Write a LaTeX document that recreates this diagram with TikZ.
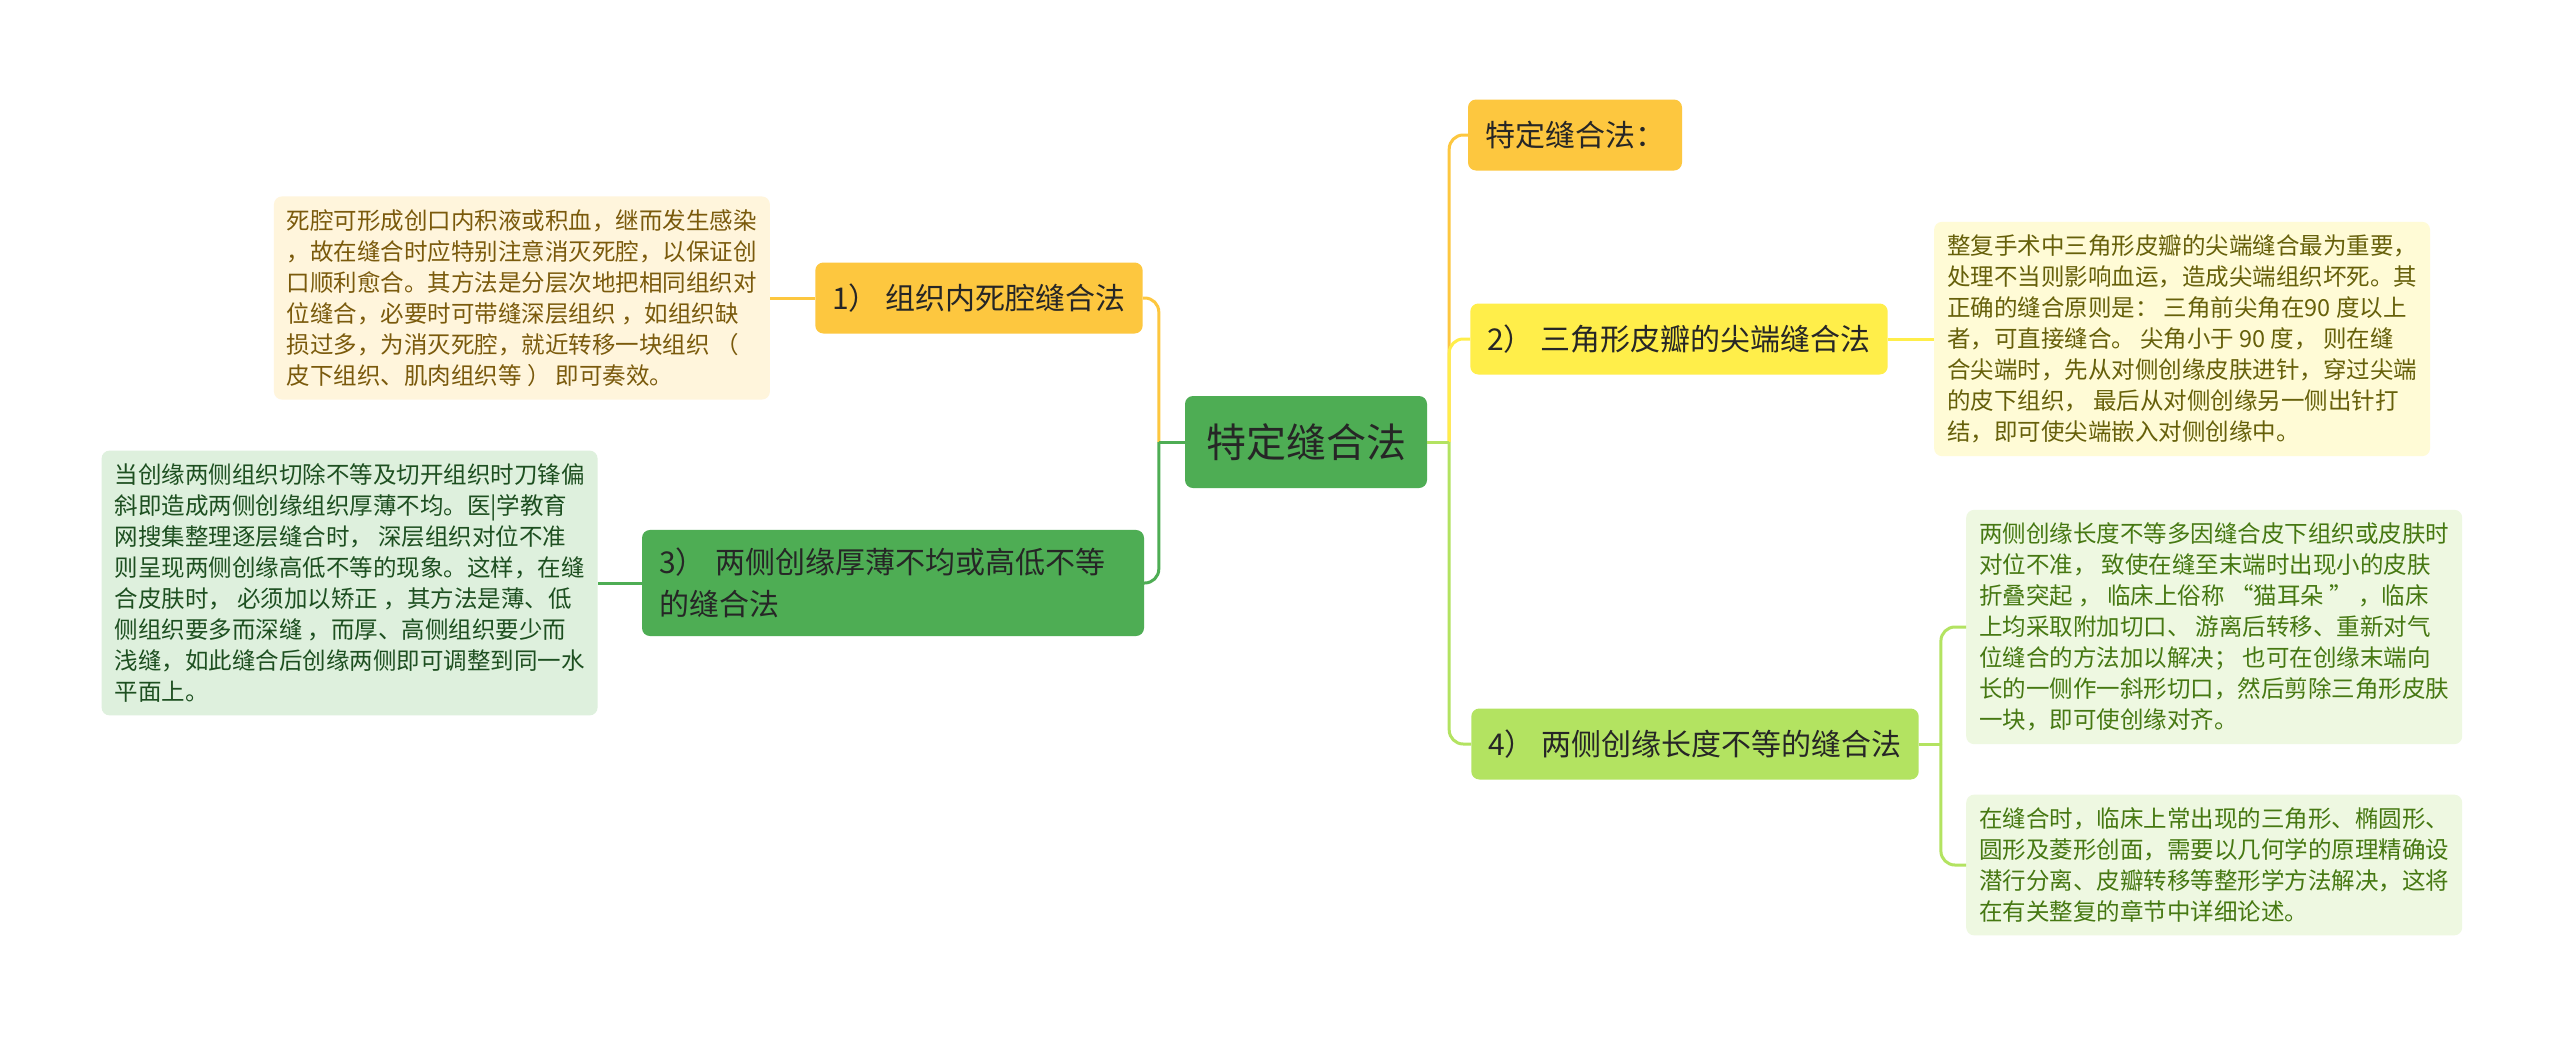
\documentclass[tikz,border=0pt]{standalone}
\usepackage{fontspec}
\setmainfont{Noto Sans CJK SC}
\usetikzlibrary{positioning}

\definecolor{rootgreen}{HTML}{4EAD54}
\definecolor{gold}{HTML}{FDC73F}
\definecolor{lemon}{HTML}{FFEE4A}
\definecolor{lime}{HTML}{B3E361}
\definecolor{creamfill}{HTML}{FFF5DC}
\definecolor{creamtext}{HTML}{7A5A0C}
\definecolor{lemonfill}{HTML}{FFFBD6}
\definecolor{lemontext}{HTML}{66600A}
\definecolor{mintfill}{HTML}{DEF0DD}
\definecolor{minttext}{HTML}{1D4F20}
\definecolor{limefill}{HTML}{EEF8E1}
\definecolor{limetext}{HTML}{467812}

\tikzset{
  topic/.style={rounded corners=8pt, inner xsep=17pt, inner ysep=0pt, minimum height=71pt,
    font=\fontsize{30}{42}\selectfont, text=black!85},
  note/.style={rounded corners=8pt, align=left, inner xsep=13pt, inner ysep=13pt,
    font=\fontsize{23.5}{31}\selectfont},
  link/.style={line width=3pt, rounded corners=14pt},
}

\begin{document}
\begin{tikzpicture}[x=1pt, y=-1pt]
        \fill[white] (0,0) rectangle (2560,1039);
        \useasboundingbox (0,0) rectangle (2560,1039);

        %nodes
        \node[topic, fill=rootgreen, minimum height=92pt, inner xsep=21pt,
              font=\fontsize{40}{48}\selectfont] (root) at (1306, 442) {特定缝合法};

        \node[topic, fill=gold] (dead) at (979, 298) {1）\ 组织内死腔缝合法};
        \node[topic, fill=rootgreen, inner ysep=18pt, text width=468pt, align=left]
              (thick) at (893, 583) {3）\ 两侧创缘厚薄不均或高低不等\\的缝合法};
        \node[topic, fill=gold] (intro) at (1575, 135) {特定缝合法：};
        \node[topic, fill=lemon] (tip) at (1679, 339) {2）\ 三角形皮瓣的尖端缝合法};
        \node[topic, fill=lime] (length) at (1695, 744) {4）\ 两侧创缘长度不等的缝合法};

        \node[note, fill=creamfill, text=creamtext, left=45pt of dead] (deadnote) {%
          死腔可形成创口内积液或积血，继而发生感染\\
          ，故在缝合时应特别注意消灭死腔，以保证创\\
          口顺利愈合。其方法是分层次地把相同组织对\\
          位缝合，必要时可带缝深层组织 ，如组织缺\\
          损过多，为消灭死腔，就近转移一块组织 （\\
          皮下组织、肌肉组织等 ） 即可奏效。};
        \node[note, fill=mintfill, text=minttext, left=44pt of thick] (thicknote) {%
          当创缘两侧组织切除不等及切开组织时刀锋偏\\
          斜即造成两侧创缘组织厚薄不均。医|学教育\\
          网搜集整理逐层缝合时， 深层组织对位不准\\
          则呈现两侧创缘高低不等的现象。这样，在缝\\
          合皮肤时， 必须加以矫正 ，其方法是薄、低\\
          侧组织要多而深缝 ，而厚、高侧组织要少而\\
          浅缝，如此缝合后创缘两侧即可调整到同一水\\
          平面上。};
        \node[note, fill=lemonfill, text=lemontext, right=46pt of tip] (tipnote) {%
          整复手术中三角形皮瓣的尖端缝合最为重要，\\
          处理不当则影响血运，造成尖端组织坏死。其\\
          正确的缝合原则是： 三角前尖角在90 度以上\\
          者，可直接缝合。 尖角小于 90 度， 则在缝\\
          合尖端时，先从对侧创缘皮肤进针，穿过尖端\\
          的皮下组织， 最后从对侧创缘另一侧出针打\\
          结，即可使尖端嵌入对侧创缘中。};
        \node[note, fill=limefill, text=limetext, anchor=west] (lengthnote) at (1966, 627) {%
          两侧创缘长度不等多因缝合皮下组织或皮肤时\\
          对位不准， 致使在缝至末端时出现小的皮肤\\
          折叠突起 ， 临床上俗称 “猫耳朵 ” ，临床\\
          上均采取附加切口、 游离后转移、重新对气\\
          位缝合的方法加以解决； 也可在创缘末端向\\
          长的一侧作一斜形切口，然后剪除三角形皮肤\\
          一块，即可使创缘对齐。};
        \node[note, fill=limefill, text=limetext, anchor=west] (shapenote) at (1966, 865) {%
          在缝合时，临床上常出现的三角形、椭圆形、\\
          圆形及菱形创面，需要以几何学的原理精确设\\
          潜行分离、皮瓣转移等整形学方法解决，这将\\
          在有关整复的章节中详细论述。};

        \coordinate[left=26pt of root.west] (rootL);
        \coordinate[right=22pt of root.east] (rootR);
        \coordinate[right=22pt of length.east] (lengthR);

        %edges
        \draw[link, gold] (rootL) |- (dead.east);
        \draw[link, rootgreen] (rootL) |- (thick.east);
        \draw[link, rootgreen] (root.west) -- (rootL);
        \draw[link, gold] (rootR) |- (intro.west);
        \draw[link, lemon] (rootR) |- (tip.west);
        \draw[link, lime] (rootR) |- (length.west);
        \draw[link, lime] (root.east) -- (rootR);
        \draw[link, gold] (dead) -- (deadnote);
        \draw[link, rootgreen] (thick) -- (thicknote);
        \draw[link, lemon] (tip) -- (tipnote);
        \draw[link, lime] (length.east) -- (lengthR);
        \draw[link, lime] (lengthR) |- (lengthnote.west);
        \draw[link, lime] (lengthR) |- (shapenote.west);
    \end{tikzpicture}
\end{document}
